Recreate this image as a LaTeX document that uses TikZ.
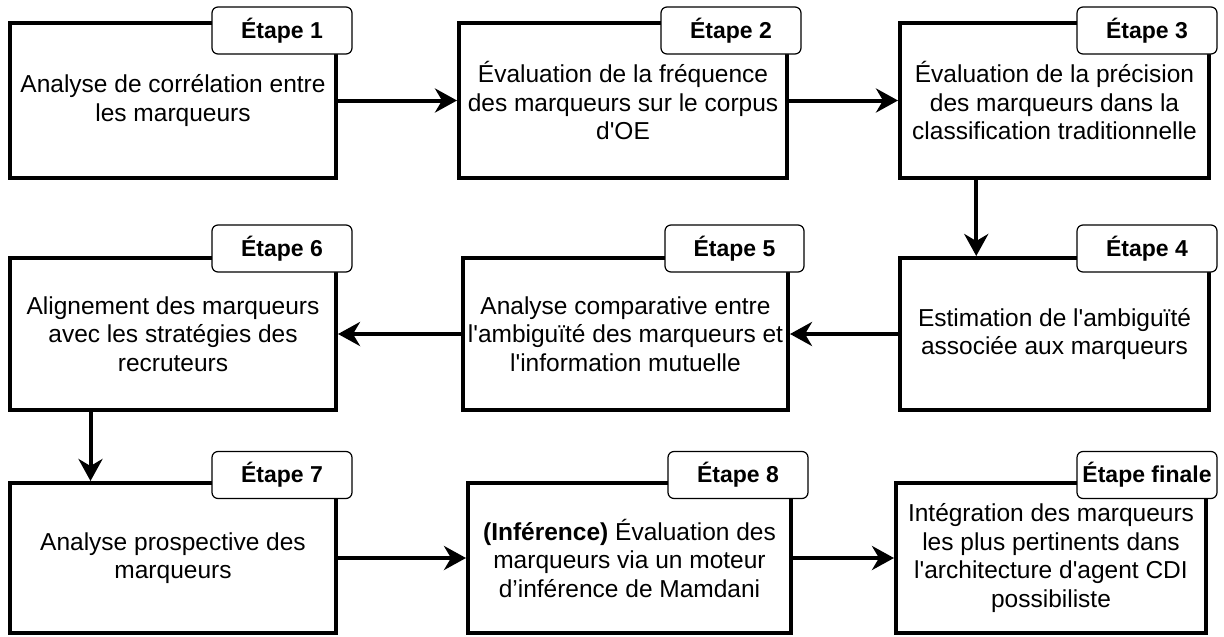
\documentclass[tikz,border=0pt]{standalone}
\usepackage{fontspec}
\setmainfont{Liberation Sans}[Ligatures=TeXOff]
\usetikzlibrary{arrows.meta,calc}
\newcommand\bodyfont{\fontsize{24.5}{28.5}\selectfont}
\newcommand\tabfont{\bfseries\fontsize{23}{27}\selectfont}
\tikzset{
  stagebox/.style={draw, line width=4pt, inner sep=0pt, align=center, font=\bodyfont, fill=white},
  tabbox/.style={draw, fill=white, rounded corners=6pt, line width=1.2pt, inner sep=0pt, font=\tabfont, minimum height=47pt},
  arr/.style={line width=4pt, -{Stealth[length=22pt, width=24pt, inset=7pt]}}
}
\begin{document}
\begin{tikzpicture}[x=1pt,y=-1pt]
\useasboundingbox[fill=white] (0,0) rectangle (1224,637);
% row 1
\node[stagebox, minimum width=326pt, minimum height=155pt] (b1) at (173,100.5) {Analyse de corrélation entre\\les marqueurs};
\node[tabbox, minimum width=140pt] (t1) at (282,30.5) {Étape 1};
\node[stagebox, minimum width=328pt, minimum height=155pt] (b2) at (623,100.5) {Évaluation de la fréquence\\des marqueurs sur le corpus\\d'OE};
\node[tabbox, minimum width=140pt] (t2) at (731,30.5) {Étape 2};
\node[stagebox, minimum width=309pt, minimum height=155pt] (b3) at (1054.5,100.5) {Évaluation de la précision\\des marqueurs dans la\\classification traditionnelle};
\node[tabbox, minimum width=140pt] (t3) at (1147,30.5) {Étape 3};
% row 2
\node[stagebox, minimum width=309pt, minimum height=152pt] (b4) at (1054.5,334) {Estimation de l'ambiguïté\\associée aux marqueurs};
\node[tabbox, minimum width=140pt] (t4) at (1147,248.5) {Étape 4};
\node[stagebox, minimum width=325pt, minimum height=152pt] (b5) at (625.5,334) {Analyse comparative entre\\l'ambiguïté des marqueurs et\\l'information mutuelle};
\node[tabbox, minimum width=139pt] (t5) at (734.5,248.5) {Étape 5};
\node[stagebox, minimum width=326pt, minimum height=152pt] (b6) at (173,334) {Alignement des marqueurs\\avec les stratégies des\\recruteurs};
\node[tabbox, minimum width=140pt] (t6) at (282,248.5) {Étape 6};
% row 3
\node[stagebox, minimum width=326pt, minimum height=150pt] (b7) at (173,558) {Analyse prospective des\\marqueurs};
\node[tabbox, minimum width=140pt] (t7) at (282,475) {Étape 7};
\node[stagebox, minimum width=323pt, minimum height=150pt] (b8) at (629.5,558) {\textbf{(Inférence)} Évaluation des\\marqueurs via un moteur\\d’inférence de Mamdani};
\node[tabbox, minimum width=140pt] (t8) at (738,475) {Étape 8};
\node[stagebox, minimum width=310pt, minimum height=150pt] (b9) at (1051,558) {Intégration des marqueurs\\les plus pertinents dans\\l'architecture d'agent CDI\\possibiliste};
\node[tabbox, minimum width=140pt] (t9) at (1147,475) {Étape finale};
% connectors
\draw[arr] (b1) -- (b2);
\draw[arr] (b2) -- (b3);
\draw[arr] ($(b3.south west)!0.25!(b3.south east)$) -- ($(b4.north west)!0.25!(b4.north east)$);
\draw[arr] (b4) -- (b5);
\draw[arr] (b5) -- (b6);
\draw[arr] ($(b6.south west)!0.25!(b6.south east)$) -- ($(b7.north west)!0.25!(b7.north east)$);
\draw[arr] (b7) -- (b8);
\draw[arr] (b8) -- (b9);
\end{tikzpicture}
\end{document}
